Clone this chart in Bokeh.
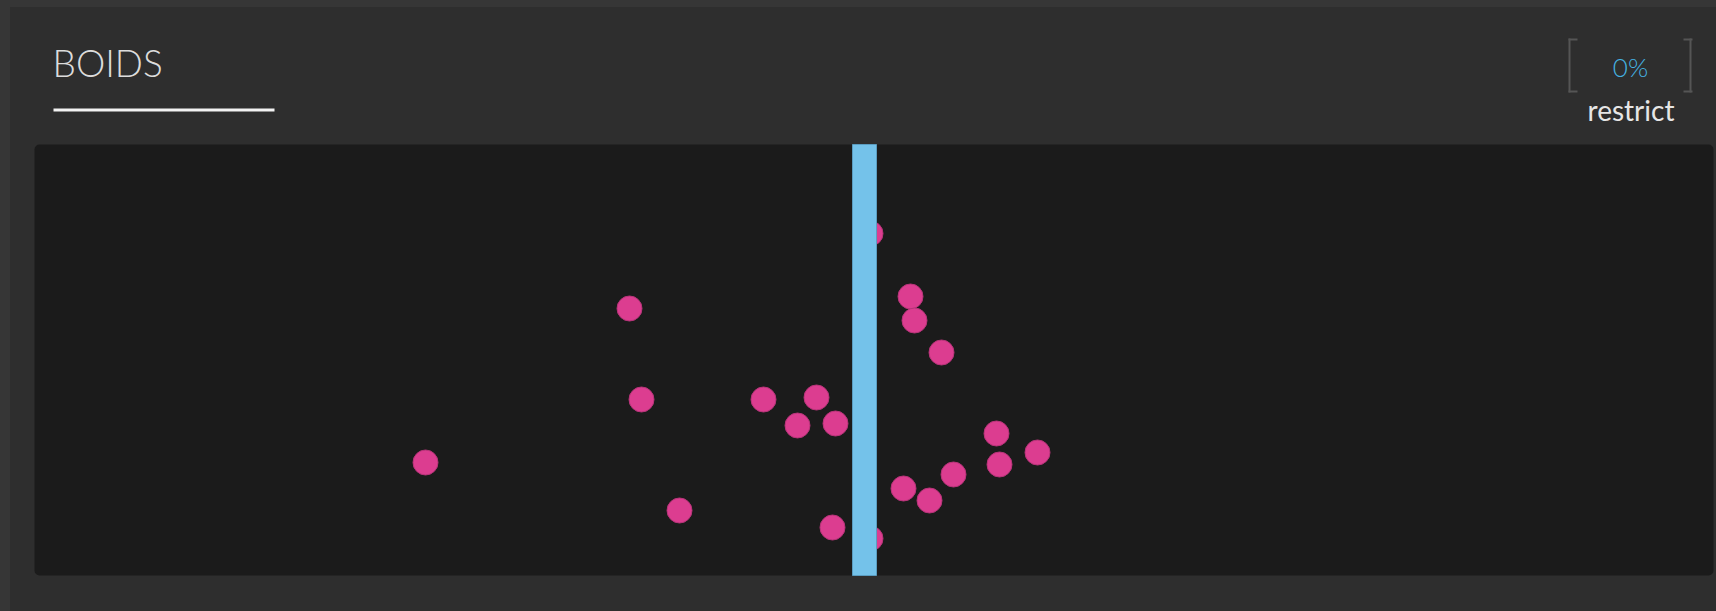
from bokeh.plotting import figure
from bokeh.models import Range1d, Label, Arrow, BoxAnnotation, ColumnDataSource
from bokeh.core.templates import FILE
from bokeh.embed import file_html
from bokeh.resources import INLINE

# ---- data (pixels of the simulation area, y grows downward) ----
boid_x = [836, 876, 880, 907, 782, 763, 801, 962, 1003, 965, 919, 869, 895, 798, 836,
          595, 607, 729, 391, 645]
boid_y = [89, 152, 176, 208, 253, 281, 279, 289, 308, 320, 330, 344, 356, 383, 394,
          164, 255, 255, 318, 366]
wall_x = [830]
restrict_pct = ["0%"]
title_text = ["BOIDS"]
control_label = ["restrict"]

W, H = 1679, 431          # simulation area size
OX, OY = 34, 144          # where the simulation area sits on the page
PW, PH = 1716, 611

p = figure(width=PW, height=PH, output_backend="svg", toolbar_location=None,
           title=None, x_axis_type=None, y_axis_type=None,
           x_range=Range1d(-OX, PW - OX), y_range=Range1d(PH - OY, -OY),
           min_border=0)
p.grid.visible = False
p.outline_line_color = None
p.border_fill_color = None
p.background_fill_color = None

p.add_layout(BoxAnnotation(left=0, right=W, top=0, bottom=H, fill_color="#1b1b1b",
                           fill_alpha=1, line_alpha=0, border_radius=5, level="underlay"))

src = ColumnDataSource(dict(x=boid_x, y=boid_y))
p.circle("x", "y", radius=12.5, source=src, fill_color="#dc3d90", line_color="#b83479",
         line_width=1)

p.vbar(x=wall_x, width=24, top=0, bottom=H, fill_color="#74c2ea", line_color="#5a9cc0",
       line_width=1)

LIGHT = "Lato Light, Lato"
p.add_layout(Label(x=18, y=-82, text=title_text[0], text_font=LIGHT, text_font_size="37px",
                   text_color="#dcdcdc", text_baseline="alphabetic", text_align="left"))
p.add_layout(Arrow(end=None, x_start=19, y_start=-34.5, x_end=240, y_end=-34.5,
                   line_color="#f2f2f2", line_width=3))

p.add_layout(Label(x=1596, y=-78, text=restrict_pct[0], text_font=LIGHT, text_font_size="26px",
                   text_color="#45b3e2", text_baseline="alphabetic", text_align="center"))
p.add_layout(Label(x=1596.5, y=-35, text=control_label[0], text_font="Lato", text_font_size="28px",
                   text_color="#e6e6e6", text_baseline="alphabetic", text_align="center"))

bc = "#555555"
for (xs, xe, ys, ye) in [(1535, 1535, -106, -52), (1534, 1543, -105, -105), (1534, 1543, -53, -53),
                         (1656, 1656, -106, -52), (1649, 1658, -105, -105), (1649, 1658, -53, -53)]:
    p.add_layout(Arrow(end=None, x_start=xs, y_start=ys, x_end=xe, y_end=ye,
                       line_color=bc, line_width=2))

tmpl = FILE.environment.from_string(
    '{% extends "file.html" %}{% block postamble %}<style>'
    'html{min-height:100%;background-color:#2e2e2e;'
    'background-image:linear-gradient(to right,#363636 10px,transparent 10px),'
    'linear-gradient(to bottom,#363636 7px,transparent 7px);'
    'background-repeat:no-repeat;background-size:100% 100%;}'
    '</style>{% endblock %}')

open("out.html", "w").write(file_html(p, INLINE, template=tmpl))
